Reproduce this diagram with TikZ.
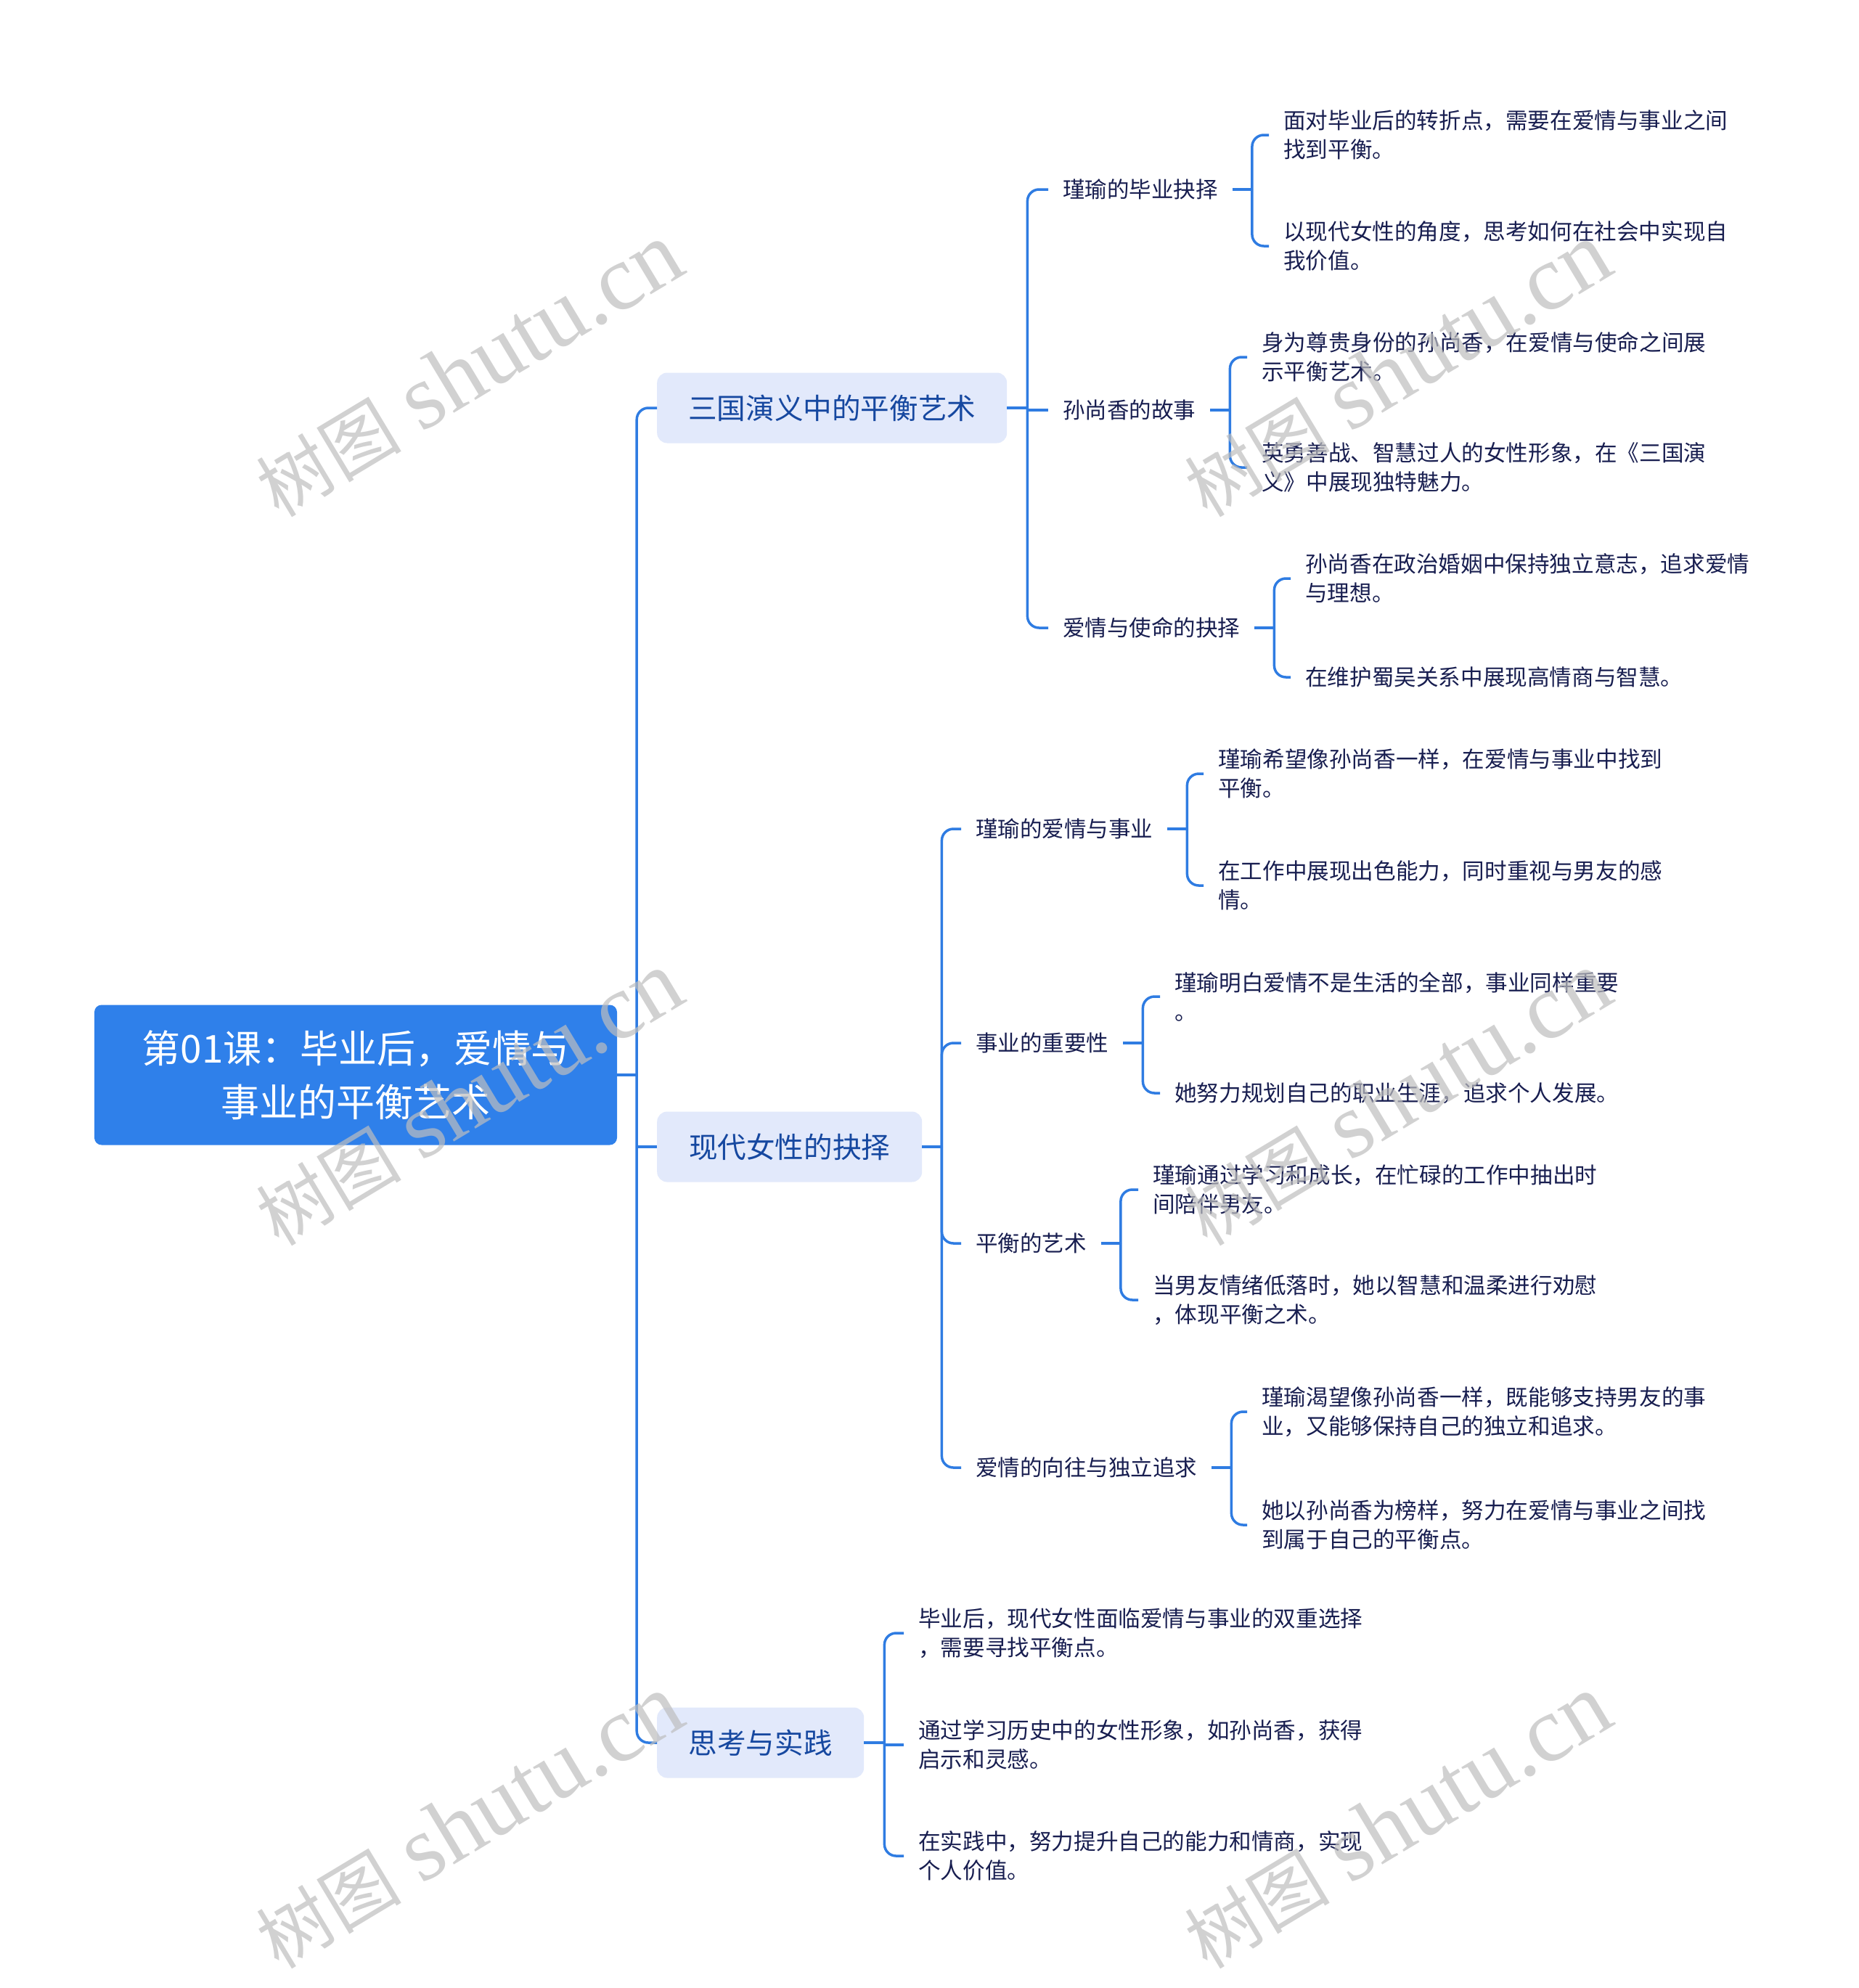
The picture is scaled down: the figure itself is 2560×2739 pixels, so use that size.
\documentclass[tikz,border=0pt]{standalone}
\usepackage{fontspec}
\setmainfont{Noto Sans CJK SC}
\newfontfamily\wmlatin{Liberation Serif}
\newfontfamily\wmcjk{Noto Sans CJK SC}
\definecolor{lineblue}{RGB}{47,124,226}
\definecolor{rootblue}{RGB}{47,128,234}
\definecolor{boxblue}{RGB}{226,233,251}
\definecolor{boxtext}{RGB}{22,72,160}
\definecolor{leaftext}{RGB}{24,30,80}
\definecolor{wmgray}{RGB}{190,190,190}
\tikzset{
  conn/.style={draw=lineblue, line width=3.5pt, rounded corners=16pt},
  rootbox/.style={fill=rootblue, text=white, rounded corners=10pt, minimum width=720pt, minimum height=193pt, align=center, inner sep=0pt, font=\fontsize{53}{74}\selectfont},
  lvlone/.style={fill=boxblue, text=boxtext, rounded corners=14pt, minimum height=97pt, inner xsep=0pt, inner ysep=0pt, anchor=west, font=\fontsize{39.6}{47}\selectfont},
  lvltwo/.style={text=leaftext, inner xsep=20pt, inner ysep=4pt, anchor=west, font=\fontsize{30.5}{40}\selectfont},
  leaf/.style={text=leaftext, inner xsep=20pt, inner ysep=4pt, anchor=west, align=left, font=\fontsize{30.6}{40}\selectfont},
  wm/.style={text=wmgray, opacity=0.7, rotate=31, inner sep=0pt, font=\fontsize{128}{130}\selectfont}
}
\newcommand{\wmtext}{{\wmcjk\fontsize{100}{110}\selectfont 树图} {\wmlatin shutu.cn}}
\begin{document}
\begin{tikzpicture}[x=1pt,y=-1pt]
\useasboundingbox[fill=white] (0,0) rectangle (2560,2739);

% root and level one
\node[rootbox] (root) at (490,1481) {第01课：毕业后，爱情与\\事业的平衡艺术};
\node[lvlone, minimum width=482pt] (A) at (905,562) {三国演义中的平衡艺术};
\node[lvlone, minimum width=365pt] (B) at (905,1580) {现代女性的抉择};
\node[lvlone, minimum width=285pt] (C) at (905,2401) {思考与实践};

% level two
\node[lvltwo] (a1) at (1444,261) {瑾瑜的毕业抉择};
\node[lvltwo] (a2) at (1444,565) {孙尚香的故事};
\node[lvltwo] (a3) at (1444,865) {爱情与使命的抉择};
\node[lvltwo] (b1) at (1324,1142) {瑾瑜的爱情与事业};
\node[lvltwo] (b2) at (1324,1437) {事业的重要性};
\node[lvltwo] (b3) at (1324,1713) {平衡的艺术};
\node[lvltwo] (b4) at (1324,2022) {爱情的向往与独立追求};

% leaves
\node[leaf] (a11) at (1748,186) {面对毕业后的转折点，需要在爱情与事业之间\\找到平衡。};
\node[leaf] (a12) at (1748,339) {以现代女性的角度，思考如何在社会中实现自\\我价值。};
\node[leaf] (a21) at (1718,492) {身为尊贵身份的孙尚香，在爱情与使命之间展\\示平衡艺术。};
\node[leaf] (a22) at (1718,644) {英勇善战、智慧过人的女性形象，在《三国演\\义》中展现独特魅力。};
\node[leaf] (a31) at (1778,797) {孙尚香在政治婚姻中保持独立意志，追求爱情\\与理想。};
\node[leaf] (a32) at (1778,933) {在维护蜀吴关系中展现高情商与智慧。};
\node[leaf] (b11) at (1658,1066) {瑾瑜希望像孙尚香一样，在爱情与事业中找到\\平衡。};
\node[leaf] (b12) at (1658,1220) {在工作中展现出色能力，同时重视与男友的感\\情。};
\node[leaf] (b21) at (1598,1373) {瑾瑜明白爱情不是生活的全部，事业同样重要\\。};
\node[leaf] (b22) at (1598,1506) {她努力规划自己的职业生涯，追求个人发展。};
\node[leaf] (b31) at (1568,1639) {瑾瑜通过学习和成长，在忙碌的工作中抽出时\\间陪伴男友。};
\node[leaf] (b32) at (1568,1791) {当男友情绪低落时，她以智慧和温柔进行劝慰\\，体现平衡之术。};
\node[leaf] (b41) at (1718,1945) {瑾瑜渴望像孙尚香一样，既能够支持男友的事\\业，又能够保持自己的独立和追求。};
\node[leaf] (b42) at (1718,2101) {她以孙尚香为榜样，努力在爱情与事业之间找\\到属于自己的平衡点。};
\node[leaf] (c1) at (1245,2250) {毕业后，现代女性面临爱情与事业的双重选择\\，需要寻找平衡点。};
\node[leaf] (c2) at (1245,2404) {通过学习历史中的女性形象，如孙尚香，获得\\启示和灵感。};
\node[leaf] (c3) at (1245,2557) {在实践中，努力提升自己的能力和情商，实现\\个人价值。};

% connectors: root
\draw[conn] (root.east) -- ++(27,0) coordinate (rj);
\draw[conn] (rj) |- (A.west);
\draw[conn] (rj) |- (C.west);
\draw[conn] (rj |- B.west) -- (B.west);

% A
\draw[conn] (A.east) -- ++(28,0) coordinate (aj);
\draw[conn] (aj) |- (a1.west);
\draw[conn] (aj) |- (a3.west);
\draw[conn] (aj |- a2.west) -- (a2.west);
\draw[conn] (a1.east) -- ++(27,0) coordinate (a1j);
\draw[conn] (a1j) |- (a11.west);
\draw[conn] (a1j) |- (a12.west);
\draw[conn] (a2.east) -- ++(27,0) coordinate (a2j);
\draw[conn] (a2j) |- (a21.west);
\draw[conn] (a2j) |- (a22.west);
\draw[conn] (a3.east) -- ++(27,0) coordinate (a3j);
\draw[conn] (a3j) |- (a31.west);
\draw[conn] (a3j) |- (a32.west);

% B
\draw[conn] (B.east) -- ++(27,0) coordinate (bj);
\draw[conn] (bj) |- (b1.west);
\draw[conn] (bj) |- (b2.west);
\draw[conn] (bj) |- (b3.west);
\draw[conn] (bj) |- (b4.west);
\draw[conn] (b1.east) -- ++(27,0) coordinate (b1j);
\draw[conn] (b1j) |- (b11.west);
\draw[conn] (b1j) |- (b12.west);
\draw[conn] (b2.east) -- ++(27,0) coordinate (b2j);
\draw[conn] (b2j) |- (b21.west);
\draw[conn] (b2j) |- (b22.west);
\draw[conn] (b3.east) -- ++(27,0) coordinate (b3j);
\draw[conn] (b3j) |- (b31.west);
\draw[conn] (b3j) |- (b32.west);
\draw[conn] (b4.east) -- ++(27,0) coordinate (b4j);
\draw[conn] (b4j) |- (b41.west);
\draw[conn] (b4j) |- (b42.west);

% C
\draw[conn] (C.east) -- ++(28,0) coordinate (cj);
\draw[conn] (cj) |- (c1.west);
\draw[conn] (cj) |- (c3.west);
\draw[conn] (cj |- c2.west) -- (c2.west);

% watermarks
\node[wm] (w1) at (646,510) {\wmtext};
\node[wm] (w2) at (1925,510) {\wmtext};
\node[wm] (w3) at (646,1514) {\wmtext};
\node[wm] (w4) at (1925,1514) {\wmtext};
\node[wm] (w5) at (646,2510) {\wmtext};
\node[wm] (w6) at (1925,2510) {\wmtext};
\end{tikzpicture}
\end{document}
